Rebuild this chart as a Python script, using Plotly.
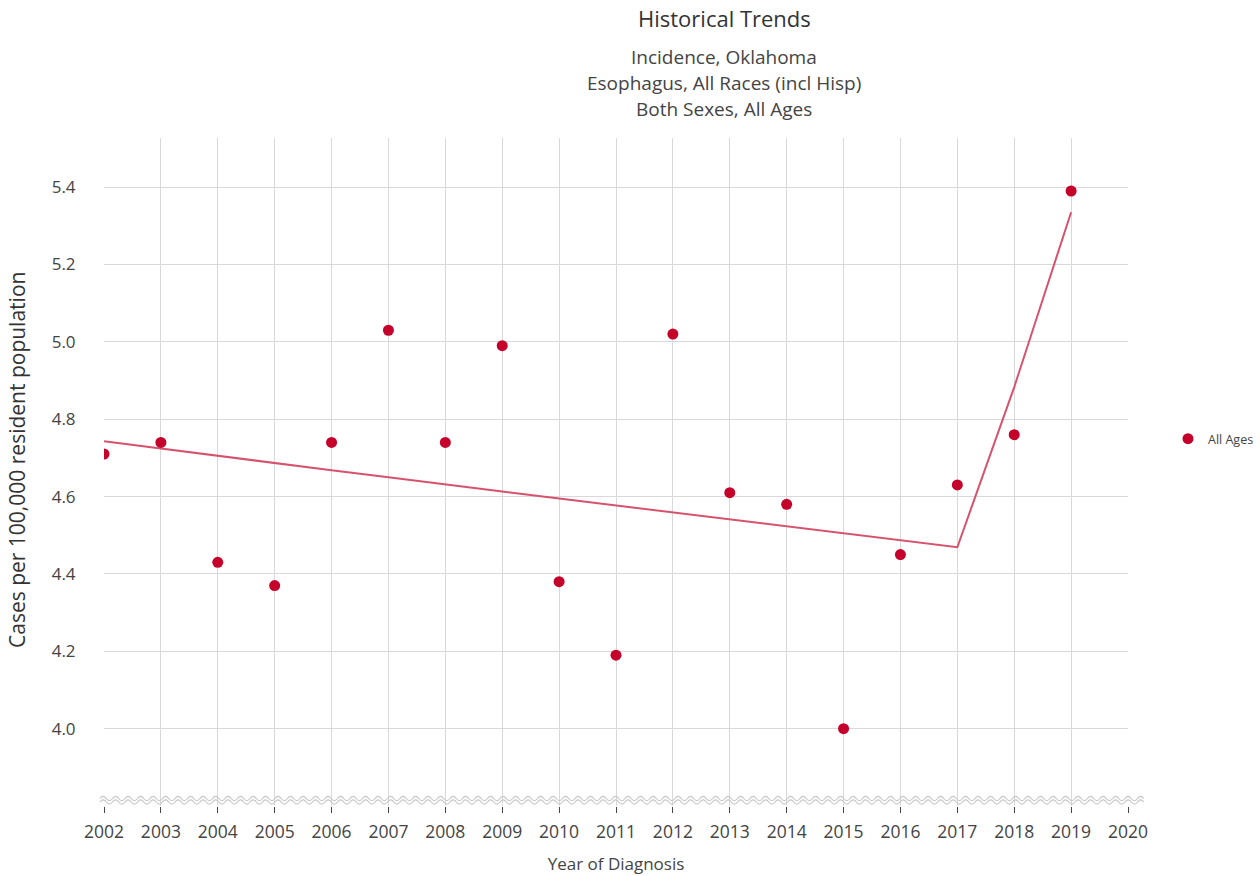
import plotly.graph_objects as go

years = [2002, 2003, 2004, 2005, 2006, 2007, 2008, 2009, 2010, 2011, 2012,
         2013, 2014, 2015, 2016, 2017, 2018, 2019]
rates = [4.71, 4.74, 4.43, 4.37, 4.74, 5.03, 4.74, 4.99, 4.38, 4.19, 5.02,
         4.61, 4.58, 4.00, 4.45, 4.63, 4.76, 5.39]
fit_years = years
fit_rates = [4.743, 4.724, 4.705, 4.687, 4.668, 4.650, 4.631, 4.613, 4.595,
             4.577, 4.559, 4.541, 4.523, 4.505, 4.487, 4.469, 4.883, 5.335]
x_ticks = list(range(2002, 2021))
y_ticks = [4.0, 4.2, 4.4, 4.6, 4.8, 5.0, 5.2, 5.4]
title_text = "Historical Trends"
subtitle_lines = ["Incidence, Oklahoma", "Esophagus, All Races (incl Hisp)",
                  "Both Sexes, All Ages"]
y_title = "Cases per 100,000 resident population"

FONT = "Open Sans, Noto Sans, sans-serif"

fig = go.Figure()
fig.add_trace(go.Scatter(x=fit_years, y=fit_rates, mode="lines",
                         line=dict(color="#d6536d", width=2),
                         showlegend=False, hoverinfo="skip"))
fig.add_trace(go.Scatter(x=years, y=rates, mode="markers", name="All Ages",
                         marker=dict(color="#c4002b", size=11)))

# body margin is removed by a post script, so figure pixels == page pixels
FW, FH = 1260, 876
L, R, T, B = 104, 132, 138, 70
W, H = FW - L - R, FH - T - B

def px_to_paper(px, py):
    return (px - L) / W, (T + H - py) / H

# wavy axis-break decoration along the bottom
def wave_path(y0):
    x = 100.0
    x0, yy = px_to_paper(x, y0)
    parts = [f"M{x0:.5f},{yy:.5f}"]
    period = 12.5
    amp = 2.2
    sign = -1
    while x < 1140:
        cx, cy = px_to_paper(x + period / 4, y0 + sign * amp * 2)
        ex, ey = px_to_paper(x + period / 2, y0)
        parts.append(f"Q{cx:.5f},{cy:.5f} {ex:.5f},{ey:.5f}")
        x += period / 2
        sign = -sign
    return " ".join(parts)

for y0 in (798.5, 802.0):
    fig.add_shape(type="path", path=wave_path(y0), xref="paper", yref="paper",
                  line=dict(color="#c8c8c8", width=1.2), layer="above")

title_x = px_to_paper(724, 0)[0]
fig.add_annotation(text=title_text, xref="paper", yref="paper",
                   x=title_x, y=px_to_paper(0, 18)[1], showarrow=False,
                   font=dict(family=FONT, size=22, color="#333333"),
                   xanchor="center", yanchor="middle", borderpad=0)
for i, line in enumerate(subtitle_lines):
    fig.add_annotation(text=line, xref="paper", yref="paper",
                       x=title_x, y=px_to_paper(0, 57 + 26 * i)[1], showarrow=False,
                       font=dict(family=FONT, size=19, color="#444444"),
                       xanchor="center", yanchor="middle")

yt_x, yt_y = px_to_paper(17, 460)
fig.add_annotation(text=y_title, xref="paper", yref="paper", x=yt_x, y=yt_y,
                   textangle=-90, showarrow=False, borderpad=0,
                   font=dict(family=FONT, size=21, color="#333333"),
                   xanchor="center", yanchor="middle")

fig.update_layout(
    width=FW, height=FH,
    margin=dict(l=L, r=R, t=T, b=B, autoexpand=False),
    paper_bgcolor="white", plot_bgcolor="white",
    font=dict(family=FONT, color="#444444"),
    showlegend=True,
    legend=dict(x=px_to_paper(1168, 0)[0], y=px_to_paper(0, 439)[1], xanchor="left",
                yanchor="middle", font=dict(size=12.5, color="#444444"),
                bgcolor="rgba(0,0,0,0)"),
    xaxis=dict(range=[2002, 2020], tickvals=x_ticks,
               ticktext=[str(v) for v in x_ticks],
               showgrid=True, gridcolor="#d9d9d9", gridwidth=1,
               zeroline=False, showline=False, automargin=False,
               ticks="outside", ticklen=6, tickcolor="#444444",
               ticklabelstandoff=4,
               tickfont=dict(size=17.5, color="#444444"),
               title=dict(text="Year of Diagnosis", standoff=16,
                          font=dict(size=17, color="#444444"))),
    yaxis=dict(range=[3.80, 5.527], tickvals=y_ticks,
               ticktext=[f"{v:.1f}" for v in y_ticks],
               showgrid=True, gridcolor="#d9d9d9", gridwidth=1,
               zeroline=False, showline=False, automargin=False,
               ticks="outside", ticklen=24, tickcolor="rgba(0,0,0,0)",
               tickfont=dict(size=17, color="#444444")),
)

fig.write_html("out.html", config={"displayModeBar": False},
               post_script="document.body.style.margin='0';document.body.style.overflow='hidden';")
